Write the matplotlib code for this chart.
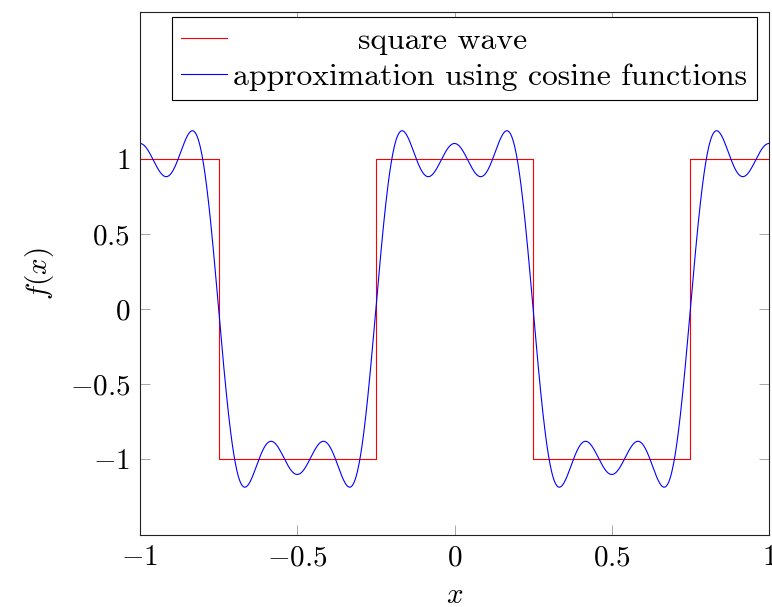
import numpy as np
import matplotlib
matplotlib.use("Agg")
import matplotlib.pyplot as plt

plt.rcParams['mathtext.fontset'] = 'cm'
plt.rcParams['font.family'] = ['cmr10', 'DejaVu Serif']

# ---- data ----
square_x = [-1.0, -0.75, -0.75, -0.25, -0.25, 0.25, 0.25, 0.75, 0.75, 1.0]
square_y = [1.0, 1.0, -1.0, -1.0, 1.0, 1.0, -1.0, -1.0, 1.0, 1.0]
harmonics = [1, 3, 5]
amplitudes = [1.2732, -0.4244, 0.2546]
x_ticks = [-1, -0.5, 0, 0.5, 1]
x_tick_labels = [r'$-1$', r'$-0.5$', r'$0$', r'$0.5$', r'$1$']
y_ticks = [-1, -0.5, 0, 0.5, 1]
y_tick_labels = [r'$-1$', r'$-0.5$', r'$0$', r'$0.5$', r'$1$']
labels = ['square wave', 'approximation using cosine functions']

xs = np.linspace(-1, 1, 1201)
approx = sum(a * np.cos(2 * np.pi * h * xs) for a, h in zip(amplitudes, harmonics))

fig = plt.figure(figsize=(7.72, 6.07), dpi=100)
ax = fig.add_axes([140/772, 1 - 535/607, 629/772, 523/607])

ax.plot(square_x, square_y, color='red', lw=0.8, label=labels[0])
ax.plot(xs, approx, color='blue', lw=0.8, label=labels[1])

ax.set_xlim(-1, 1)
ax.set_ylim(-1.507, 1.98)
ax.set_xticks(x_ticks)
ax.set_xticklabels(x_tick_labels)
ax.set_yticks(y_ticks)
ax.set_yticklabels(y_tick_labels)
ax.tick_params(direction='in', length=7, width=0.6, color='#999999',
               labelsize=21, top=True, right=True, pad=7, labelcolor='black')
for s in ax.spines.values():
    s.set_linewidth(0.8)
    s.set_color('#222222')

ax.set_xlabel(r'$x$', fontsize=21, labelpad=8)
ax.set_ylabel(r'$f(x)$', fontsize=21, labelpad=10)

leg = ax.legend(loc='upper right', bbox_to_anchor=(0.981, 1 - 5/523),
                borderaxespad=0, fancybox=False, framealpha=1,
                edgecolor='black', fontsize=22.8, handlelength=1.45,
                handletextpad=0.19, borderpad=0.3, labelspacing=0.25)
leg.get_frame().set_linewidth(0.8)

fig.canvas.draw()
texts = leg.get_texts()
w0 = texts[0].get_window_extent().width
w1 = texts[1].get_window_extent().width
dx = (w1 - w0) / 2 * 72 / fig.dpi
texts[0].set_position((dx, 0))

fig.savefig('out.png', dpi=100)
